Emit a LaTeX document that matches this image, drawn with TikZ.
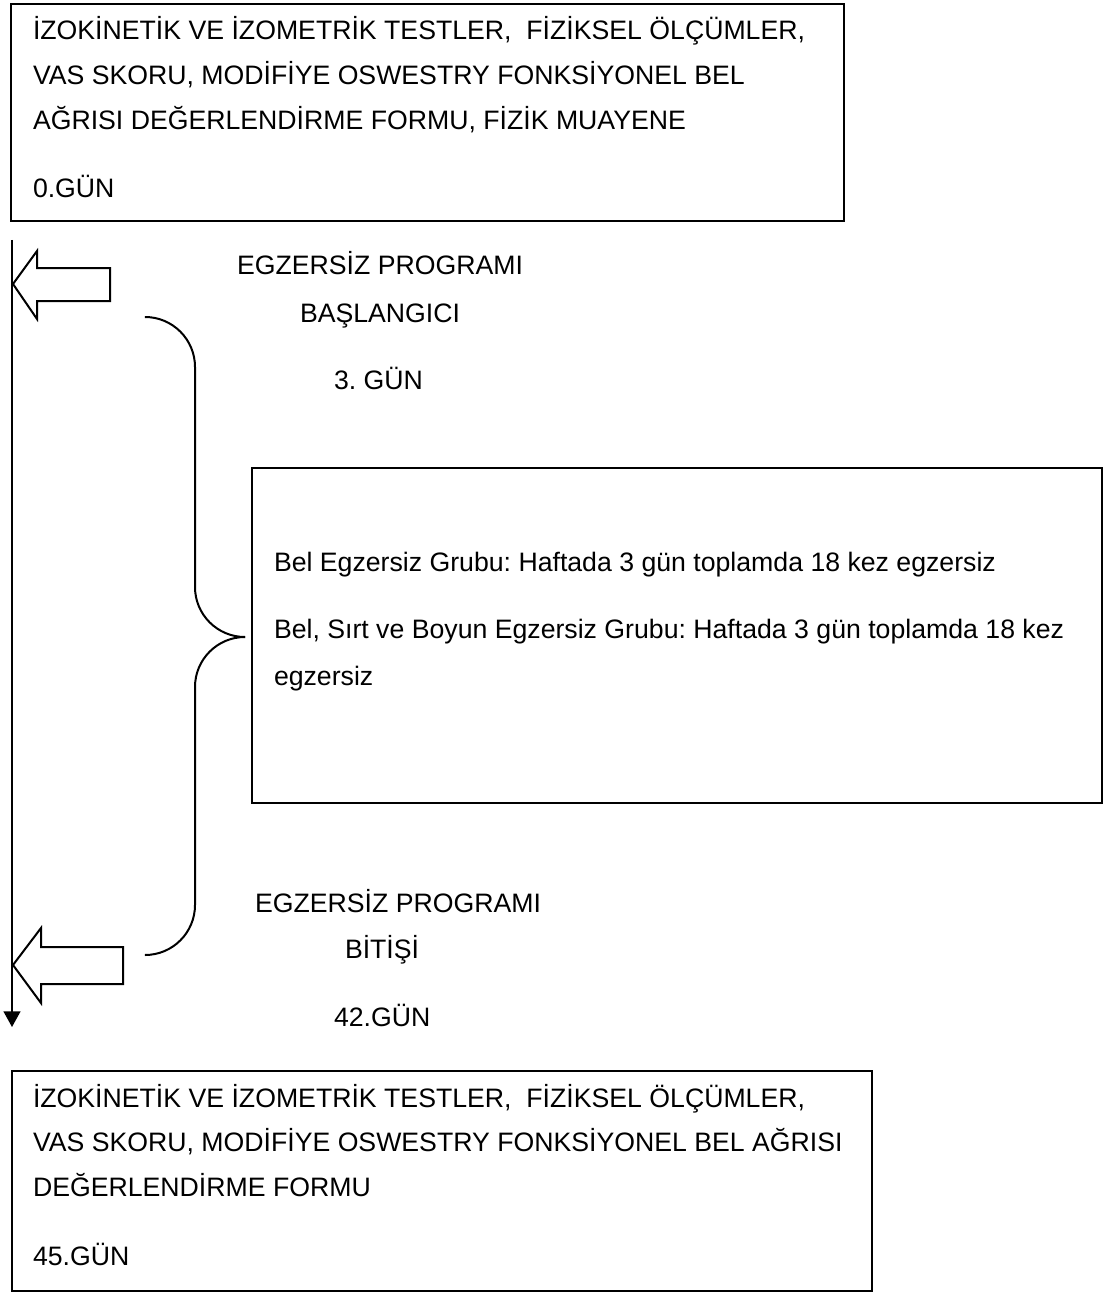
\documentclass[tikz,border=0pt]{standalone}
\usepackage{fontspec}
\setmainfont{Liberation Sans}
\usetikzlibrary{arrows.meta}
\frenchspacing

\tikzset{
	box/.style={draw, line width=0.9pt},
	lbl/.style={anchor=base west, inner sep=0pt, font=\fontsize{12}{14}\selectfont},
	blockarrow/.style={draw, line width=0.9pt, line join=miter},
}

\begin{document}
\begin{tikzpicture}[x=0.45pt, y=-0.45pt, line width=0.9pt]
		\useasboundingbox (0,0) rectangle (1104,1293);

		% boxes
		\draw[box] (11,4) coordinate (preNW) rectangle (844,221) coordinate (preSE);
		\draw[box] (252,468) coordinate (groupNW) rectangle (1102,803) coordinate (groupSE);
		\draw[box] (12,1071) coordinate (postNW) rectangle (872,1291) coordinate (postSE);

		% time axis
		\coordinate (axisTop) at (12,240);
		\coordinate (axisEnd) at (12,1027);
		\draw[-{Triangle[length=7pt,width=7.5pt]}] (axisTop) -- (axisEnd);

		% block arrows
		\coordinate (startTip) at (13,284);
		\draw[blockarrow] (startTip) -- (37,251) -- (37,268) -- (110,268) -- (110,301) -- (37,301) -- (37,319) -- cycle;
		\coordinate (endTip) at (13,965);
		\draw[blockarrow] (endTip) -- (41,928) -- (41,947) -- (123,947) -- (123,984) -- (41,984) -- (41,1003) -- cycle;

		% brace
		\coordinate (braceTop) at (145,317);
		\coordinate (braceTip) at (245,637);
		\coordinate (braceBot) at (145,955);
		\draw[rounded corners=22.5pt] (braceTop) -- (195,317) -- (195,637) -- (braceTip);
		\draw[rounded corners=22.5pt] (braceTip) -- (195,637) -- (195,955) -- (braceBot);

		% texts
		\node[lbl] (pre1) at (32,40) {İZOKİNETİK VE İZOMETRİK TESTLER,~ FİZİKSEL ÖLÇÜMLER,};
		\node[lbl] (pre2) at (32,85) {VAS SKORU, MODİFİYE OSWESTRY FONKSİYONEL BEL};
		\node[lbl] (pre3) at (32,130) {AĞRISI DEĞERLENDİRME FORMU, FİZİK MUAYENE};
		\node[lbl] (pre4) at (32,198) {0.GÜN};

		\node[lbl] (start1) at (236,275) {EGZERSİZ PROGRAMI};
		\node[lbl] (start2) at (299,322) {BAŞLANGICI};
		\node[lbl] (start3) at (333,389) {3. GÜN};

		\node[lbl] (group1) at (273,571) {Bel Egzersiz Grubu: Haftada 3 gün toplamda 18 kez egzersiz};
		\node[lbl] (group2) at (273,638) {Bel, Sırt ve Boyun Egzersiz Grubu: Haftada 3 gün toplamda 18 kez};
		\node[lbl] (group3) at (273,685) {egzersiz};

		\node[lbl] (end1) at (254,912) {EGZERSİZ PROGRAMI};
		\node[lbl] (end2) at (344,958) {BİTİŞİ};
		\node[lbl] (end3) at (333,1026) {42.GÜN};

		\node[lbl] (post1) at (32,1107) {İZOKİNETİK VE İZOMETRİK TESTLER,~ FİZİKSEL ÖLÇÜMLER,};
		\node[lbl] (post2) at (32,1151) {VAS SKORU, MODİFİYE OSWESTRY FONKSİYONEL BEL AĞRISI};
		\node[lbl] (post3) at (32,1196) {DEĞERLENDİRME FORMU};
		\node[lbl] (post4) at (32,1265) {45.GÜN};
	\end{tikzpicture}
\end{document}
